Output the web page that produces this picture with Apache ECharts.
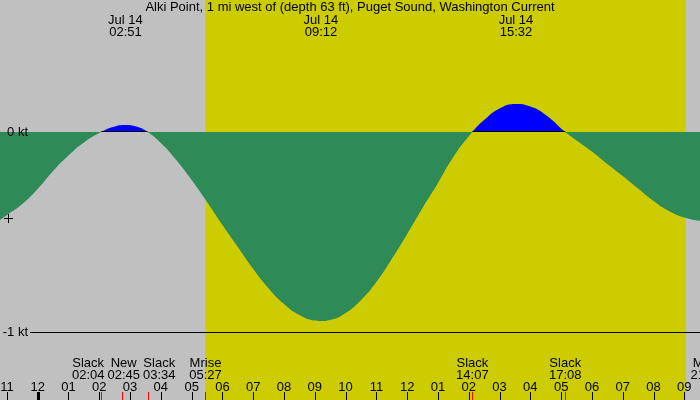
<!DOCTYPE html>
<html>
<head>
<meta charset="utf-8">
<script src="https://cdn.jsdelivr.net/npm/echarts@6/dist/echarts.min.js"></script>
<style>
html, body { margin: 0; padding: 0; background: #c0c0c0; }
#main { width: 700px; height: 400px; }
</style>
</head>
<body>
<div id="main"></div>
<script>
// hours from midnight Jul 14 (negative = evening of Jul 13), current in knots
var curveHours = [-1.224, -1, -0.5, 0, 0.5, 1, 1.5, 2.067, 2.45, 2.85, 3.2, 3.567, 4, 4.5, 5, 5.5, 6, 6.5, 7, 7.5, 8, 8.5, 9, 9.2, 9.5, 10, 10.5, 11, 11.5, 12, 12.5, 13, 13.5, 14.117, 14.5, 15, 15.533, 16, 16.5, 17.133, 17.5, 18, 18.5, 19, 19.5, 20, 20.5, 21, 21.51];
var curveKnots = [-0.44, -0.415, -0.36, -0.285, -0.195, -0.117, -0.052, 0, 0.025, 0.035, 0.027, 0, -0.055, -0.14, -0.24, -0.35, -0.465, -0.575, -0.685, -0.782, -0.86, -0.915, -0.943, -0.945, -0.94, -0.905, -0.84, -0.75, -0.635, -0.51, -0.38, -0.255, -0.125, 0, 0.06, 0.118, 0.14, 0.127, 0.085, 0, -0.042, -0.0975, -0.16, -0.22, -0.2825, -0.345, -0.395, -0.428, -0.445];

var maxTimes = ['02:51', '09:12', '15:32'];
var dateLabel = 'Jul 14';
var eventNames = ['Slack', 'New', 'Slack', 'Mrise', 'Slack', 'Slack', 'Mset'];
var eventTimes = ['02:04', '02:45', '03:34', '05:27', '14:07', '17:08', '21:44'];
var slackTimes = ['02:04', '03:34', '14:07', '17:08'];
var sunTimes = ['05:27', '21:03'];
var hourTicks = [-1, 0, 1, 2, 3, 4, 5, 6, 7, 8, 9, 10, 11, 12, 13, 14, 15, 16, 17, 18, 19, 20, 21];
var hourLabels = ['11', '12', '01', '02', '03', '04', '05', '06', '07', '08', '09', '10', '11', '12', '01', '02', '03', '04', '05', '06', '07', '08', '09'];
var levelValues = [0, -1];
var levelLabels = ['0 kt', '-1 kt'];
var nowMark = [-0.95, -0.43];

var title = 'Alki Point, 1 mi west of (depth 63 ft), Puget Sound, Washington Current';
var FAMILY = '"Liberation Sans", Arial, sans-serif';
var FONT = '13px ' + FAMILY;
var xMin = -1.224, xMax = 21.51, yMin = -1.34, yMax = 0.66;
var EBB = '#2e8b57', FLOOD = '#0000ff';

function toH(s) { var p = s.split(':'); return +p[0] + p[1] / 60; }

var ctx = document.createElement('canvas').getContext('2d');
ctx.font = FONT;
function textW(s) { return ctx.measureText(s).width; }

// push overlapping bottom labels apart, keeping each cluster centred on its events
function layoutLabels(xs, widths, gap) {
    var groups = xs.map(function (x, i) { return { idx: [i], w: widths[i], sum: x, c: x }; });
    var merged = true;
    while (merged) {
        merged = false;
        for (var i = 0; i < groups.length - 1; i++) {
            var a = groups[i], b = groups[i + 1];
            if (a.c + a.w / 2 + gap > b.c - b.w / 2) {
                a.idx = a.idx.concat(b.idx);
                a.w += gap + b.w;
                a.sum += b.sum;
                a.c = a.sum / a.idx.length;
                groups.splice(i + 1, 1);
                merged = true;
                break;
            }
        }
    }
    var centers = [];
    groups.forEach(function (g) {
        var left = g.c - g.w / 2;
        g.idx.forEach(function (i) { centers[i] = left + widths[i] / 2; left += widths[i] + gap; });
    });
    return centers;
}

var floods = [];
for (var i = 0; i + 1 < slackTimes.length; i += 2) floods.push([toH(slackTimes[i]), toH(slackTimes[i + 1])]);

function txt(x, y, s, align) {
    return { type: 'text', x: x, y: y, style: { text: s, font: FONT, fill: '#000', align: align || 'center', verticalAlign: 'middle' } };
}

var myChart = echarts.init(document.getElementById('main'));

// grid fills the canvas, so the zero row sits at yMax/(yMax-yMin) of its height
var H = myChart.getHeight();
var f = yMax / (yMax - yMin);
var fillGradient = {
    type: 'linear', x: 0, y: 0, x2: 0, y2: H, global: true,
    colorStops: [
        { offset: 0, color: FLOOD }, { offset: f, color: FLOOD },
        { offset: f, color: EBB }, { offset: 1, color: EBB }
    ]
};

option = {
    backgroundColor: '#c0c0c0',
    animation: false,
    title: {
        text: title,
        left: 'center',
        top: 1,
        padding: 0,
        textStyle: { fontSize: 13, fontWeight: 'normal', color: '#000', fontFamily: FAMILY }
    },
    grid: { left: 0, right: 0, top: 0, bottom: 0 },
    xAxis: { type: 'value', min: xMin, max: xMax, show: false },
    yAxis: { type: 'value', min: yMin, max: yMax, show: false },
    series: [
        {   // daylight
            type: 'custom', z: 0, silent: true,
            data: [[toH(sunTimes[0]), toH(sunTimes[1])]],
            renderItem: function (params, api) {
                var a = api.coord([api.value(0), yMax]);
                var b = api.coord([api.value(1), yMin]);
                return { type: 'rect', shape: { x: a[0], y: a[1], width: b[0] - a[0], height: b[1] - a[1] }, style: { fill: '#cccc00' } };
            }
        },
        {   // current
            type: 'line', z: 1, silent: true,
            smooth: 0.5,
            showSymbol: false,
            lineStyle: { width: 0 },
            areaStyle: { opacity: 1, color: fillGradient },
            data: curveHours.map(function (h, i) { return [h, curveKnots[i]]; })
        },
        {   // zero line under flood
            type: 'custom', z: 3, silent: true,
            data: floods,
            renderItem: function (params, api) {
                var a = api.coord([api.value(0), 0]);
                var b = api.coord([api.value(1), 0]);
                var y = Math.round(a[1]) - 0.5;
                return { type: 'line', shape: { x1: a[0], y1: y, x2: b[0], y2: y }, style: { stroke: '#000', lineWidth: 1 } };
            }
        },
        {   // kt levels
            type: 'custom', z: 3, silent: true,
            data: levelValues.map(function (v) { return [xMin, v]; }),
            renderItem: function (params, api) {
                var p = api.coord([xMin, api.value(1)]);
                var right = params.coordSys.x + params.coordSys.width;
                var kids = [txt(p[0] + 28, p[1], levelLabels[params.dataIndex], 'right')];
                if (api.value(1) !== 0) {
                    var y = Math.round(p[1]) + 0.5;
                    kids.push({ type: 'line', shape: { x1: p[0] + 30, y1: y, x2: right, y2: y }, style: { stroke: '#000', lineWidth: 1 } });
                }
                return { type: 'group', children: kids };
            }
        },
        {   // hour ticks
            type: 'custom', z: 3, silent: true,
            data: hourTicks.map(function (h) { return [h, yMin]; }),
            renderItem: function (params, api) {
                var h = api.value(0);
                var p = api.coord([h, yMin]);
                var mid = h % 24 === 0;
                var x = Math.round(p[0]);
                return { type: 'group', children: [
                    { type: 'rect', shape: { x: mid ? x - 1 : x, y: p[1] - 8, width: mid ? 3 : 1, height: 8 }, style: { fill: '#000' } },
                    txt(p[0], p[1] - 13, hourLabels[params.dataIndex])
                ] };
            }
        },
        {   // events
            type: 'custom', z: 3, silent: true, clip: false,
            data: eventTimes.map(function (t) { return [toH(t), yMin]; }),
            renderItem: function (params, api) {
                var xs = eventTimes.map(function (t) { return api.coord([toH(t), yMin])[0]; });
                var ws = eventNames.map(function (n, i) { return Math.max(textW(n), textW(eventTimes[i])); });
                var cs = layoutLabels(xs, ws, 3);
                var i = params.dataIndex;
                var p = api.coord([api.value(0), yMin]);
                return { type: 'group', children: [
                    { type: 'rect', shape: { x: Math.round(p[0]), y: p[1] - 8, width: 1, height: 8 }, style: { fill: '#ff0000' } },
                    txt(cs[i], p[1] - 37, eventNames[i]),
                    txt(cs[i], p[1] - 25, eventTimes[i])
                ] };
            }
        },
        {   // max current labels
            type: 'custom', z: 3, silent: true,
            data: maxTimes.map(function (t) { return [toH(t), yMax]; }),
            renderItem: function (params, api) {
                var p = api.coord([api.value(0), yMax]);
                return { type: 'group', children: [
                    txt(p[0], p[1] + 20, dateLabel),
                    txt(p[0], p[1] + 32, maxTimes[params.dataIndex])
                ] };
            }
        },
        {   // now mark
            type: 'custom', z: 3, silent: true,
            data: [nowMark],
            renderItem: function (params, api) {
                var p = api.coord([api.value(0), api.value(1)]);
                var x = Math.round(p[0]), y = Math.round(p[1]);
                return { type: 'group', children: [
                    { type: 'rect', shape: { x: x - 4, y: y, width: 9, height: 1 }, style: { fill: '#000' } },
                    { type: 'rect', shape: { x: x, y: y - 4, width: 1, height: 9 }, style: { fill: '#000' } }
                ] };
            }
        }
    ]
};
myChart.setOption(option);
</script>
</body>
</html>
